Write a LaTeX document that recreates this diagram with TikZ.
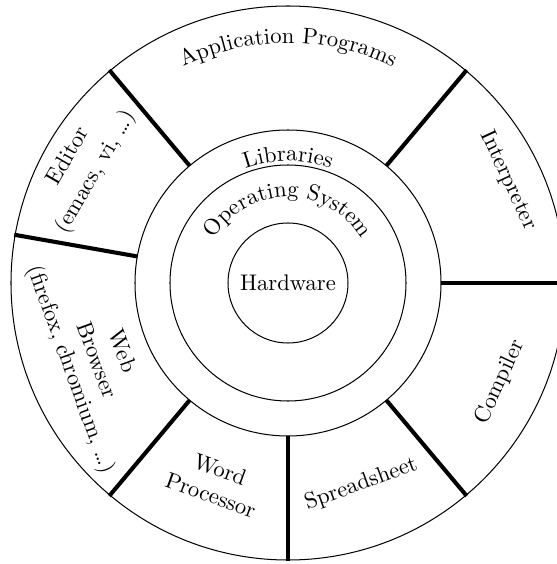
\documentclass[tikz,border=0pt]{standalone}
\usetikzlibrary{decorations.text}
\begin{document}
\begin{tikzpicture}[x=0.4425pt,y=0.4425pt,
  ring/.style={line width=0.45pt},
  divider/.style={line width=1.8pt},
  lbl/.style={align=center, inner sep=0pt},
  curved/.style={decorate, decoration={text along path, text={#1}, text align=center}}]
\clip (-288,-281) rectangle (269,283);
\coordinate (c) at (0,0);
\draw[ring] (c) circle[radius=277];
\draw[ring] (c) circle[radius=153];
\draw[ring] (c) circle[radius=118];
\node[ring, draw, circle, minimum size=120*0.4425pt, inner sep=0pt] (hw) at (c) {Hardware};
% dividers
\foreach \a/\n in {50/d1,130/d2,170/d3,230/d4,270/d5,310/d6,0/d7}{
  \coordinate (\n i) at (\a:153);
  \coordinate (\n o) at (\a:278);
  \draw[divider] (\n i) -- (\n o);
}
% curved texts
\path[curved={Application Programs}] (130:240) arc[start angle=130, end angle=50, radius=240];
\path[curved={Libraries}] (150:122) arc[start angle=150, end angle=30, radius=122];
\path[curved={Operating System}] (175:86) arc[start angle=175, end angle=5, radius=86];
% segment labels
\node[lbl, rotate=-65] (interp) at (25:243) {Interpreter};
\node[lbl, rotate=65] (comp) at (-25:234) {Compiler};
\node[lbl, rotate=20] (spread) at (290:214) {Spreadsheet};
\node[lbl, rotate=-20] (word) at (250:212) {Word\\Processor};
\node[lbl, rotate=-70] (web) at (202:208) {Web\\Browser\\(firefox, chromium, \ldots)};
\node[lbl, rotate=60] (editor) at (150:237) {Editor\\[2pt](emacs, vi, \ldots)};
\end{tikzpicture}
\end{document}
